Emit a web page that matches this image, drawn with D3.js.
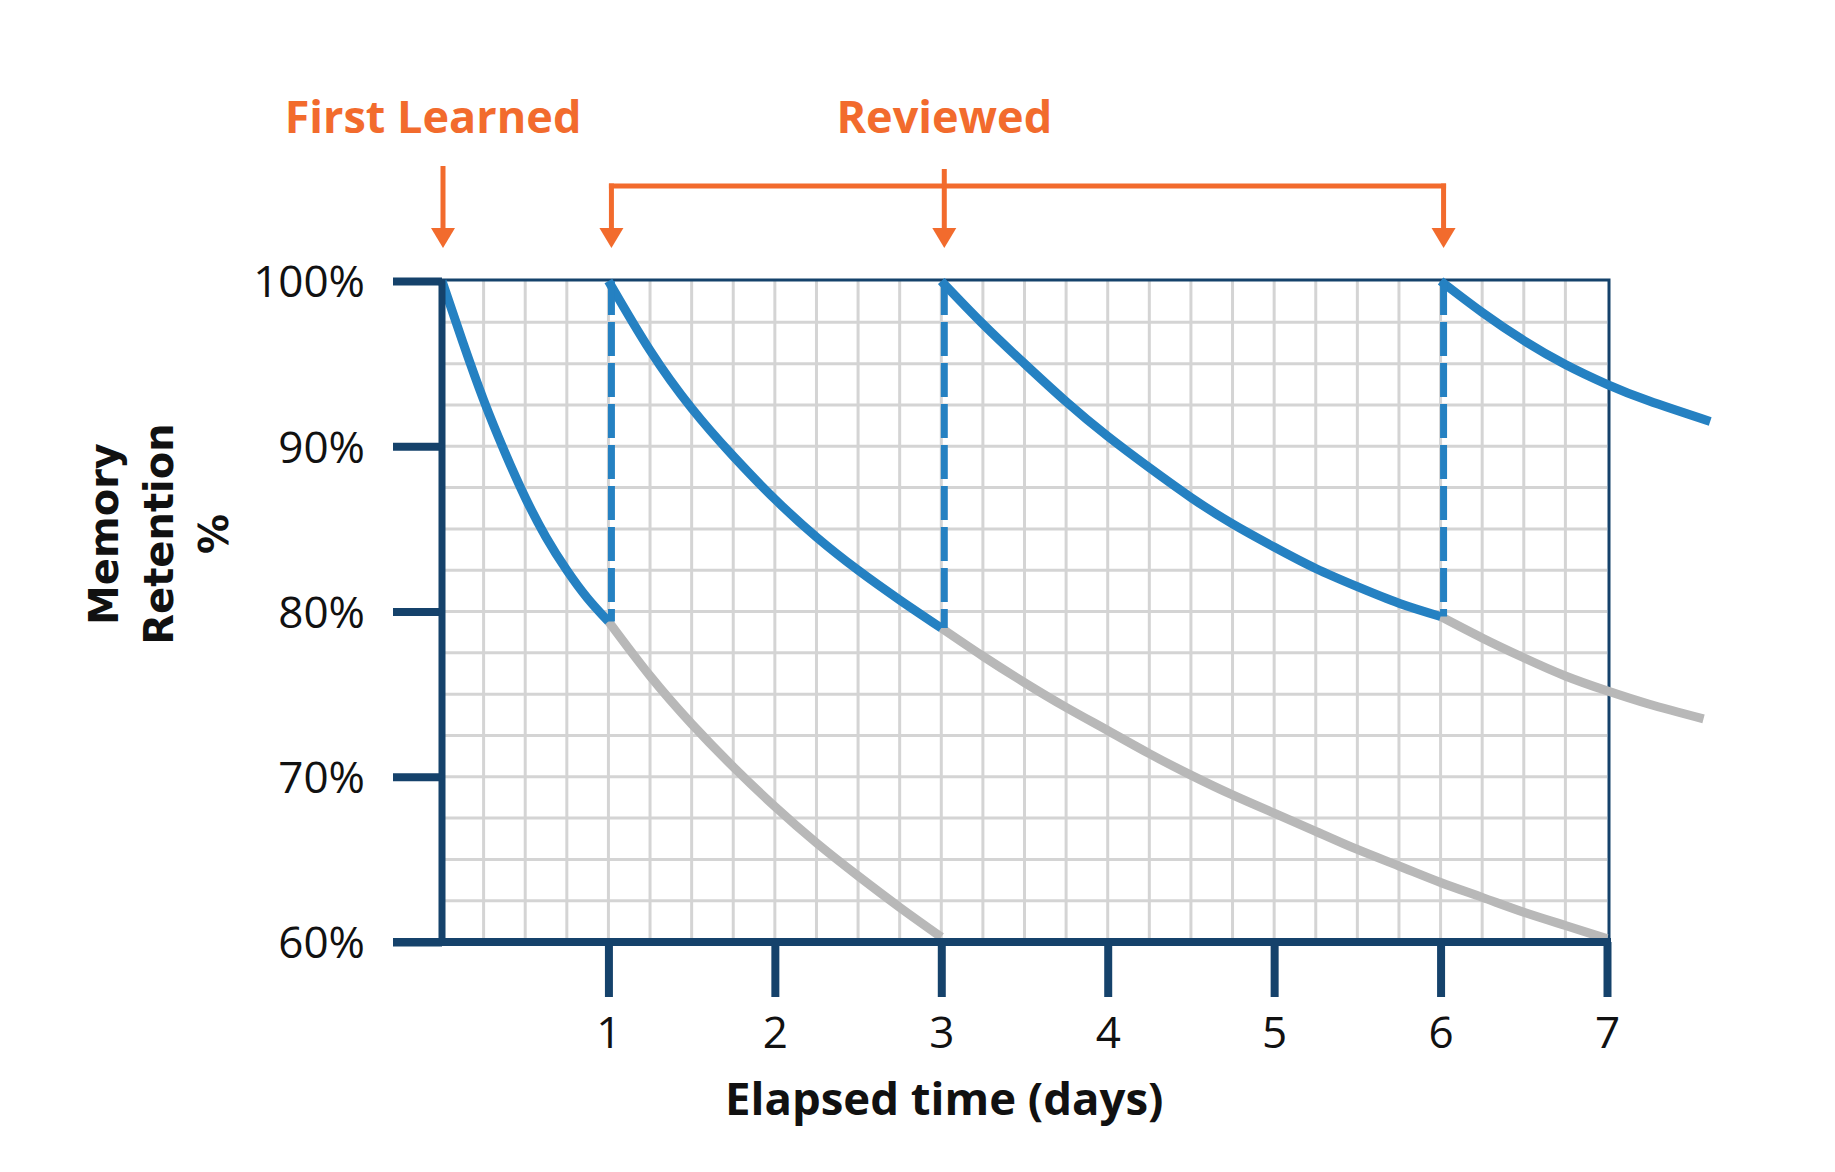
<!DOCTYPE html>
<html>
<head>
<meta charset="utf-8">
<script src="https://cdn.jsdelivr.net/npm/d3@7"></script>
<style>
  html, body { margin: 0; padding: 0; background: #ffffff; }
  svg { display: block; }
</style>
</head>
<body>
<script>
// ---------- data ----------
const dayTicks = [1, 2, 3, 4, 5, 6, 7];
const pctTicks = [60, 70, 80, 90, 100];
const reviewDays = [1, 3, 6];
const firstLearnedDay = 0;

// blue = retention after learning/review, gray = retention without the next review
const curve1Blue = [[0,100],[0.125,96.3],[0.25,92.8],[0.375,89.7],[0.5,86.9],[0.625,84.5],[0.75,82.5],[0.875,80.8],[1,79.4]];
const curve1Gray = [[1,79.4],[1.25,76.1],[1.5,73.2],[1.75,70.6],[2,68.2],[2.25,66.0],[2.5,64.0],[2.75,62.1],[3,60.3]];
const curve2Blue = [[1,100],[1.25,95.8],[1.5,92.3],[1.75,89.4],[2,86.8],[2.25,84.5],[2.5,82.5],[2.75,80.7],[3,79]];
const curve2Gray = [[3,79],[3.25,77.3],[3.5,75.7],[3.75,74.2],[4,72.8],[4.25,71.4],[4.5,70.1],[4.75,68.9],[5,67.8],[5.25,66.7],[5.5,65.6],[5.75,64.6],[6,63.6],[6.25,62.7],[6.5,61.8],[6.75,61],[7,60.2]];
const curve3Blue = [[3,100],[3.25,97.4],[3.5,95],[3.75,92.7],[4,90.6],[4.25,88.7],[4.5,86.9],[4.75,85.3],[5,83.9],[5.25,82.6],[5.5,81.5],[5.75,80.5],[6,79.7]];
const curve3Gray = [[6,79.7],[6.25,78.4],[6.5,77.2],[6.75,76.1],[7,75.2],[7.25,74.4],[7.58,73.5]];
const curve4Blue = [[6,100],[6.25,98.1],[6.5,96.4],[6.75,94.95],[7,93.75],[7.25,92.75],[7.62,91.5]];
// dashed "review jump" lines: [day, retention before review]
const reviewJumps = [[1,79.4],[3,79],[6,79.7]];

const xTitle = "Elapsed time (days)";
const yTitleLines = ["Memory", "Retention", "%"];
const labelFirst = "First Learned";
const labelReviewed = "Reviewed";

// ---------- styles ----------
const NAVY = "#15426b", BLUE = "#2581c2", GRAY = "#b8b8b8", GRID = "#d4d4d4", ORANGE = "#f26b2d";
const W = 1835, H = 1172;

const svg = d3.select("body").append("svg").attr("width", W).attr("height", H);
svg.append("rect").attr("width", W).attr("height", H).attr("fill", "#fff");

const x = d3.scaleLinear().domain([0, 7]).range([442, 1607]);
const y = d3.scaleLinear().domain([60, 100]).range([942, 281]);

// ---------- grid ----------
const gridDays = d3.range(1, 28).map(i => i / 4);
const gridPcts = d3.range(1, 16).map(i => 60 + i * 2.5);
const g = svg.append("g");
g.selectAll("line.gv").data(gridDays).join("line")
  .attr("x1", d => x(d)).attr("x2", d => x(d))
  .attr("y1", y(100)).attr("y2", y(60))
  .attr("stroke", GRID).attr("stroke-width", 3);
g.selectAll("line.gh").data(gridPcts).join("line")
  .attr("x1", x(0)).attr("x2", x(7))
  .attr("y1", d => y(d)).attr("y2", d => y(d))
  .attr("stroke", GRID).attr("stroke-width", 3);

// top & right border (thin)
svg.append("path")
  .attr("d", `M${x(0)},${y(100) - 1}H${x(7) + 2}V${y(60)}`)
  .attr("fill", "none").attr("stroke", NAVY).attr("stroke-width", 3);

// ---------- curves ----------
const line = d3.line().x(d => x(d[0])).y(d => y(d[1])).curve(d3.curveNatural);
const grays = [curve1Gray, curve2Gray, curve3Gray];
const blues = [curve1Blue, curve2Blue, curve3Blue, curve4Blue];
svg.append("g").selectAll("path").data(grays).join("path")
  .attr("d", line).attr("fill", "none").attr("stroke", GRAY).attr("stroke-width", 9);
svg.append("g").selectAll("path").data(blues).join("path")
  .attr("d", line).attr("fill", "none").attr("stroke", BLUE).attr("stroke-width", 9);

// dashed review jumps
svg.append("g").selectAll("line").data(reviewJumps).join("line")
  .attr("x1", d => x(d[0]) + 3).attr("x2", d => x(d[0]) + 3)
  .attr("y1", y(100)).attr("y2", d => y(d[1]))
  .attr("stroke", BLUE).attr("stroke-width", 7).attr("stroke-dasharray", "34,7");

// ---------- axes ----------
const yAxis = d3.axisLeft(y).tickValues(pctTicks).tickSize(49).tickPadding(28).tickFormat(d => d + "%");
const ya = svg.append("g").attr("transform", `translate(${x(0)},0)`).call(yAxis);
ya.select(".domain").remove();
ya.selectAll(".tick line").attr("stroke", NAVY).attr("stroke-width", 8);
ya.selectAll(".tick text").attr("font-family", "'Open Sans', sans-serif").attr("font-size", 44)
  .attr("fill", "#111").attr("dy", "0.36em");

const xAxis = d3.axisBottom(x).tickValues(dayTicks).tickSize(55).tickPadding(20).tickFormat(d3.format("d"));
const xa = svg.append("g").attr("transform", `translate(0,${y(60)})`).call(xAxis);
xa.select(".domain").remove();
xa.selectAll(".tick line").attr("stroke", NAVY).attr("stroke-width", 8);
xa.selectAll(".tick text").attr("font-family", "'Open Sans', sans-serif").attr("font-size", 44)
  .attr("fill", "#111");

// main axis lines
svg.append("line").attr("x1", x(0)).attr("x2", x(0)).attr("y1", y(100) - 2).attr("y2", y(60))
  .attr("stroke", NAVY).attr("stroke-width", 7);
svg.append("line").attr("x1", 393).attr("x2", x(7) + 4).attr("y1", y(60)).attr("y2", y(60))
  .attr("stroke", NAVY).attr("stroke-width", 8);

// ---------- titles ----------
svg.append("text").attr("x", x(3) + 3).attr("y", 1115).attr("text-anchor", "middle")
  .attr("font-family", "'Open Sans', sans-serif").attr("font-weight", 700).attr("font-size", 45.5)
  .attr("fill", "#111").text(xTitle);

const yt = svg.append("g");
yTitleLines.forEach((t, i) => {
  yt.append("text").attr("transform", `translate(${118 + i * 55},534) rotate(-90)`)
    .attr("text-anchor", "middle")
    .attr("font-family", "'DejaVu Sans', sans-serif").attr("font-weight", 700).attr("font-size", 40)
    .attr("fill", "#111").text(t);
});

// ---------- annotations ----------
const ann = svg.append("g");
function arrow(xx, yTop) {
  ann.append("line").attr("x1", xx).attr("x2", xx).attr("y1", yTop).attr("y2", 232)
    .attr("stroke", ORANGE).attr("stroke-width", 5);
  ann.append("path").attr("d", `M${xx - 12},228L${xx + 12},228L${xx},248Z`).attr("fill", ORANGE);
}
arrow(x(firstLearnedDay) + 1, 166);
const bracketY = 186;
ann.append("line").attr("x1", x(reviewDays[0]) + 3 - 2.5).attr("x2", x(reviewDays[reviewDays.length - 1]) + 3 + 2.5)
  .attr("y1", bracketY).attr("y2", bracketY).attr("stroke", ORANGE).attr("stroke-width", 5);
reviewDays.forEach((d, i) => {
  arrow(x(d) + 3, (i === 0 || i === reviewDays.length - 1) ? bracketY - 2.5 : 169);
});
ann.append("text").attr("x", x(firstLearnedDay) - 9).attr("y", 133).attr("text-anchor", "middle")
  .attr("font-family", "'Open Sans', sans-serif").attr("font-weight", 700).attr("font-size", 45)
  .attr("fill", ORANGE).text(labelFirst);
ann.append("text").attr("x", x(3) + 3).attr("y", 133).attr("text-anchor", "middle")
  .attr("font-family", "'Open Sans', sans-serif").attr("font-weight", 700).attr("font-size", 45)
  .attr("fill", ORANGE).text(labelReviewed);
</script>
</body>
</html>
